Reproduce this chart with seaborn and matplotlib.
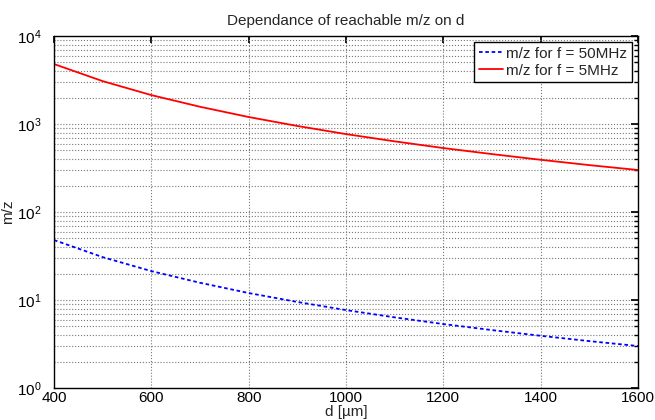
import matplotlib
matplotlib.use("Agg")
import matplotlib.pyplot as plt
import seaborn as sns
import pandas as pd
from matplotlib.ticker import LogLocator, NullFormatter

d_um = [400, 500, 600, 700, 800, 900, 1000, 1100, 1200, 1300, 1400, 1500, 1600]
mz_5mhz = [4800, 3070, 2130, 1570, 1200, 950, 768, 635, 533, 455, 392, 341, 300]
mz_50mhz = [48.0, 30.7, 21.3, 15.7, 12.0, 9.5, 7.68, 6.35, 5.33, 4.55, 3.92, 3.41, 3.0]
labels = ["m/z for f = 50MHz", "m/z for f = 5MHz"]
x_ticks = [400, 600, 800, 1000, 1200, 1400, 1600]

sns.set_theme(style="white")
plt.rcParams['font.family'] = ['Liberation Sans', 'DejaVu Sans']
plt.rcParams['mathtext.fontset'] = 'custom'
plt.rcParams['mathtext.rm'] = 'Liberation Sans'

df = pd.DataFrame({
    "d": d_um * 2,
    "mz": mz_50mhz + mz_5mhz,
    "series": [labels[0]] * len(d_um) + [labels[1]] * len(d_um),
})

fig = plt.figure(figsize=(6.55, 4.2), dpi=100)
ax = fig.add_axes([54/655, 1 - 388/420, (638-54)/655, (388-36)/420])

sns.lineplot(data=df, x="d", y="mz", hue="series", style="series",
             palette={labels[0]: "#0000ff", labels[1]: "#ff0000"},
             dashes={labels[0]: (2, 1.5), labels[1]: ""},
             linewidth=1.3, ax=ax, legend=True)

ax.set_yscale("log")
ax.set_xlim(400, 1600)
ax.set_ylim(1, 1e4)
ax.set_xticks(x_ticks)
ax.yaxis.set_major_locator(LogLocator(base=10, numticks=10))
ax.yaxis.set_minor_locator(LogLocator(base=10, subs=range(2, 10), numticks=20))
ax.yaxis.set_minor_formatter(NullFormatter())

ax.grid(True, which="major", axis="both", linestyle=":", color="#777777", linewidth=0.8)
ax.grid(True, which="minor", axis="y", linestyle=":", color="#777777", linewidth=0.8)

for s in ax.spines.values():
    s.set_color("black")
    s.set_linewidth(1.0)
ax.tick_params(which="both", direction="in", top=True, right=True, colors="black",
               labelsize=11)
ax.tick_params(which="major", length=5)
ax.tick_params(which="minor", length=3)
ax.tick_params(axis="x", pad=2)
ax.tick_params(axis="y", pad=9)

ax.set_xlabel("d [\u00b5m]", fontsize=11)
ax.xaxis.set_label_coords(0.5, -0.047)
ax.set_ylabel("m/z", fontsize=11, labelpad=1)
ax.set_title("Dependance of reachable m/z on d", fontsize=11, pad=8)

leg = ax.legend(loc="upper right", fontsize=11, frameon=True, fancybox=False,
                handlelength=1.6, handletextpad=0.2, borderpad=0.3,
                labelspacing=0.2, borderaxespad=0.4)
leg.get_frame().set_edgecolor("black")
leg.get_frame().set_linewidth(1.0)
leg.get_frame().set_alpha(1)

fig.savefig("out.png", dpi=100)
